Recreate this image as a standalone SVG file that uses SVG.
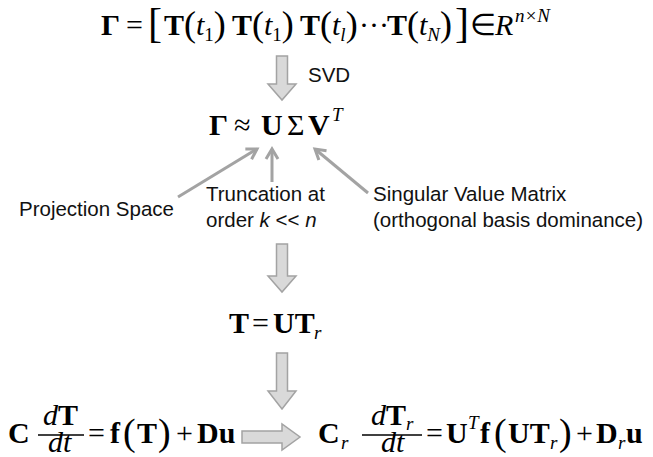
<svg xmlns="http://www.w3.org/2000/svg" width="653" height="457" viewBox="0 0 653 457">
<style>
.m{font-family:"Liberation Serif","Times New Roman",serif;font-size:30px;fill:#000}
.b{font-weight:bold}
.i{font-style:italic}
.s{font-size:19px}
.p{font-size:38px}
.q{font-size:36px}
.lbl{font-family:"Liberation Sans",Arial,sans-serif;font-size:20.5px;fill:#111}
.blk{fill:#d9d9d9;stroke:#a3a3a3;stroke-width:1.5}
.thin{stroke:#a3a3a3;stroke-width:3;fill:none;marker-end:url(#ah)}
.bar{stroke:#000;stroke-width:1.5}
</style>
<defs>
<marker id="ah" markerUnits="userSpaceOnUse" markerWidth="16" markerHeight="16" refX="12" refY="8" orient="auto">
<path d="M2,2 L12,8 L2,14" fill="none" stroke="#a3a3a3" stroke-width="3"/>
</marker>
</defs>

<g id="eq-gamma" class="m">
<text x="101" y="35" class="b">Γ</text>
<text x="126" y="35">=</text>
<text x="148" y="37" font-size="42">[</text>
<text x="164" y="35"><tspan class="b">T</tspan><tspan class="q" dy="1">(</tspan><tspan class="i" dy="-1">t</tspan><tspan class="s" dy="6">1</tspan><tspan class="q" dy="-5">)</tspan></text>
<text x="232" y="35"><tspan class="b">T</tspan><tspan class="q" dy="1">(</tspan><tspan class="i" dy="-1">t</tspan><tspan class="s" dy="6">1</tspan><tspan class="q" dy="-5">)</tspan></text>
<text x="300" y="35"><tspan class="b">T</tspan><tspan class="q" dy="1">(</tspan><tspan class="i" dy="-1">t</tspan><tspan class="s i" dy="6">l</tspan><tspan class="q" dy="-5">)</tspan></text>
<text x="359" y="35">···</text>
<text x="387" y="35"><tspan class="b">T</tspan><tspan class="q" dy="1">(</tspan><tspan class="i" dy="-1">t</tspan><tspan class="s i" dy="6">N</tspan><tspan class="q" dy="-5">)</tspan></text>
<text x="455" y="37" font-size="42">]</text>
<text x="470" y="35">∈</text>
<text x="495" y="35" class="i">R</text>
<text x="515" y="22" class="s i">n×N</text>
</g>

<g id="svd-label"><text x="308" y="82" class="lbl">SVD</text></g>

<g id="eq-svd" class="m">
<text x="209" y="135" class="b">Γ</text>
<text x="234" y="135">≈</text>
<text x="261" y="135" class="b">U</text>
<text x="287" y="135">Σ</text>
<text x="308" y="135" class="b">V</text>
<text x="332" y="121" class="s i">T</text>
</g>

<g id="lbl-projection"><text x="19" y="216" class="lbl">Projection Space</text></g>
<g id="lbl-truncation"><text x="206" y="201" class="lbl">Truncation at</text><text x="206" y="227" class="lbl">order <tspan font-style="italic">k</tspan> &lt;&lt; <tspan font-style="italic">n</tspan></text></g>
<g id="lbl-singular"><text x="373" y="201" class="lbl">Singular Value Matrix</text><text x="373" y="227" class="lbl">(orthogonal basis dominance)</text></g>

<g id="eq-reduce" class="m">
<text x="229" y="333" class="b">T</text>
<text x="252" y="333">=</text>
<text x="273" y="333" class="b">UT</text>
<text x="314" y="339" class="s i">r</text>
</g>

<g id="eq-full" class="m">
<text x="8" y="443" class="b">C</text>
<text x="43" y="425"><tspan class="i">d</tspan><tspan class="b">T</tspan></text>
<line x1="38" y1="435" x2="84" y2="435" class="bar"/>
<text x="48" y="452" class="i">dt</text>
<text x="88" y="443">=</text>
<text x="110" y="443" class="b">f</text>
<text x="123" y="445" class="p">(</text>
<text x="137" y="443" class="b">T</text>
<text x="158" y="445" class="p">)</text>
<text x="176" y="443">+</text>
<text x="197" y="443" class="b">Du</text>
</g>

<g id="eq-rom" class="m">
<text x="318" y="443" class="b">C</text>
<text x="341" y="449" class="s i">r</text>
<text x="371" y="425"><tspan class="i">d</tspan><tspan class="b">T</tspan></text>
<text x="406" y="430" class="s i">r</text>
<line x1="362" y1="435" x2="422" y2="435" class="bar"/>
<text x="381" y="452" class="i">dt</text>
<text x="426" y="443">=</text>
<text x="446" y="443" class="b">U</text>
<text x="468" y="429" class="s i">T</text>
<text x="480" y="443" class="b">f</text>
<text x="494" y="445" class="p">(</text>
<text x="508" y="443" class="b">UT</text>
<text x="550" y="449" class="s i">r</text>
<text x="559" y="445" class="p">)</text>
<text x="576" y="443">+</text>
<text x="596" y="443" class="b">D</text>
<text x="618" y="449" class="s i">r</text>
<text x="626" y="443" class="b">u</text>
</g>

<g id="connectors">
<polygon class="blk" points="276.5,56 287.5,56 287.5,84 296,84 282,100 268,84 276.5,84"/>
<polygon class="blk" points="276.5,244 287.5,244 287.5,276 296,276 282,292 268,276 276.5,276"/>
<polygon class="blk" points="276.5,353 287.5,353 287.5,391 296,391 282,409 268,391 276.5,391"/>
<polygon class="blk" points="242,431 282,431 282,424 300,437 282,450 282,443 242,443"/>
<line class="thin" x1="178" y1="197" x2="257" y2="149"/>
<line class="thin" x1="272" y1="182" x2="272" y2="149"/>
<line class="thin" x1="368" y1="193" x2="315" y2="149"/>
</g>
</svg>
